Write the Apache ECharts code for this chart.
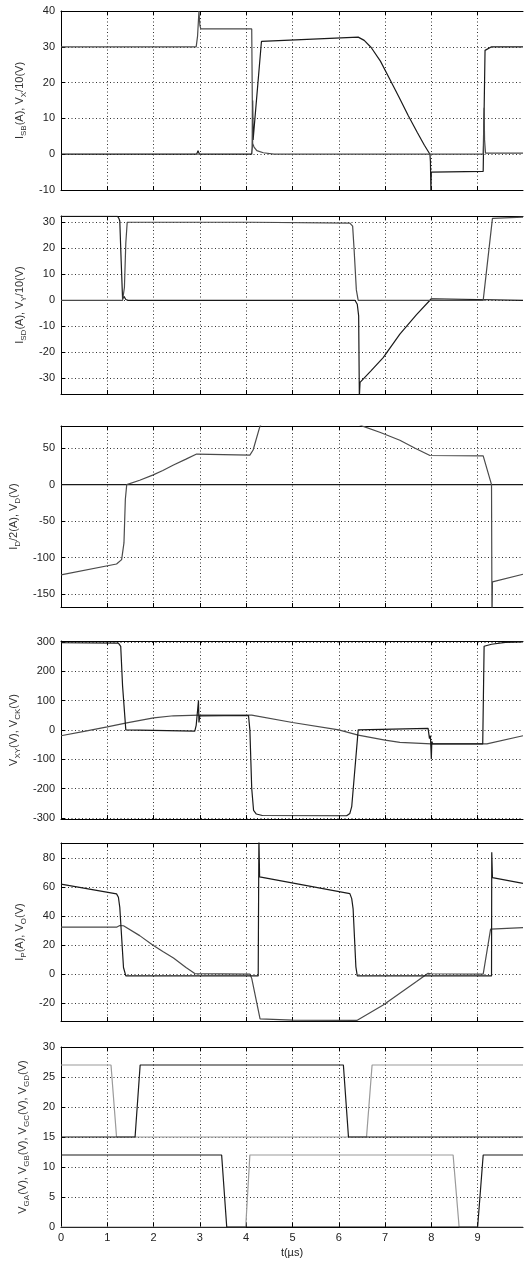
<!DOCTYPE html>
<html><head><meta charset="utf-8">
<script src="https://cdn.jsdelivr.net/npm/echarts@6/dist/echarts.min.js"></script>
<style>html,body{margin:0;padding:0;background:#fff}#c{width:529px;height:1263px}</style>
</head><body><div id="c"></div><script>
// ---- time axis ----
const timeTicks = [0,1,2,3,4,5,6,7,8,9];
const timeMin = 0, timeMax = 9.98;

// ---- panel 1 ----
const p1Ticks = [-10,0,10,20,30,40];
const p1Range = [-10, 40];
const p1Name = '{m|I}{s|SB}{m|(A), V}{s|X}{m|/10(V)}';
const p1TraceA = [[0,0],[2.93,0],[2.96,1],[2.99,0],[4.12,0],[4.13,2],[4.14,15],[4.15,4],[4.17,3.5],[4.33,31.5],[6.42,32.7],[6.55,31.8],[6.7,29.8],[6.9,26],[7.1,21],[7.3,16],[7.5,10.8],[7.7,6],[7.85,2.5],[7.97,0],[7.98,-2],[7.99,-10],[8.0,-5],[8.02,-4.8],[9.12,-4.8],[9.16,29],[9.2,29.5],[9.3,30],[9.98,30]];
const p1TraceB = [[0,30],[2.92,30],[2.95,33],[2.98,40],[3.0,36],[3.02,35],[4.12,35],[4.14,3],[4.17,2],[4.23,1],[4.37,0.4],[4.6,0],[9.12,0],[9.14,13],[9.15,4],[9.17,0.3],[9.98,0.3]];

// ---- panel 2 ----
const p2Ticks = [-30,-20,-10,0,10,20,30];
const p2Range = [-36, 32.4];
const p2Name = '{m|I}{s|SD}{m|(A), V}{s|Y}{m|/10(V)}';
const p2TraceA = [[0,32.3],[1.22,32.3],[1.25,31.5],[1.27,30.5],[1.30,15],[1.33,0.5],[1.36,1.5],[1.40,0.3],[1.45,0],[6.35,0],[6.40,-1.5],[6.43,-6],[6.445,-37],[6.46,-31.5],[6.7,-27],[6.96,-22],[7.32,-13],[7.68,-5.5],[8.0,0.6],[8.03,0],[9.98,0]];
const p2TraceB = [[0,0],[1.33,0],[1.37,5],[1.40,22],[1.43,30],[4.12,30],[4.15,29.7],[6.24,29.7],[6.30,28.5],[6.33,20],[6.38,4],[6.42,0],[9.12,0],[9.32,31.5],[9.36,32],[9.98,32]];

// ---- panel 3 ----
const p3Ticks = [-150,-100,-50,0,50];
const p3Range = [-168, 80.5];
const p3Name = '{m|I}{s|D}{m|/2(A), V}{s|D}{m|(V)}';
const p3VD = [[0,-124],[1.20,-109],[1.31,-103],[1.36,-80],[1.39,-20],[1.42,0],[1.7,6],[1.98,13],[2.2,19.5],[2.43,27],[2.7,35],[2.93,42],[2.97,40.5],[4.08,40.5],[4.15,47.6],[4.30,80.7],[4.45,93],[5.0,106],[5.6,104],[6.1,93],[6.53,80],[6.9,71.5],[7.32,61],[7.65,50],[7.97,40],[8.0,39.5],[9.12,39.5],[9.30,0],[9.31,-190],[9.32,-133.5],[9.98,-123]];
const p3ID = [[0,0],[9.98,0]];

// ---- panel 4 ----
const p4Ticks = [-300,-200,-100,0,100,200,300];
const p4Range = [-304, 303];
const p4Name = '{m|V}{s|XY}{m|(V), V}{s|CK}{m|(V)}';
const p4VXY = [[0,297],[1.24,296],[1.29,285],[1.33,150],[1.40,0],[1.42,-4],[2.89,-4],[2.92,15],[2.95,20],[2.97,100],[2.98,25],[3.0,48],[4.05,49],[4.08,0],[4.12,-200],[4.16,-275],[4.22,-287],[4.35,-292],[6.17,-293],[6.24,-285],[6.28,-262],[6.42,0],[6.44,5],[7.93,5],[7.96,-30],[7.98,-20],[8.0,-100],[8.01,-40],[8.03,-48],[9.11,-48],[9.14,285],[9.3,292],[9.6,298],[9.98,300]];
const p4VCK = [[0,-20],[0.5,-5],[1.0,10],[1.42,24],[2.0,41],[2.43,48],[3.0,50],[4.12,50],[5.0,25],[6.0,0],[6.42,-18],[7.0,-35],[7.32,-43],[8.0,-48],[9.2,-48],[9.98,-20]];

// ---- panel 5 ----
const p5Ticks = [-20,0,20,40,60,80];
const p5Range = [-32.4, 90.4];
const p5Name = '{m|I}{s|P}{m|(A), V}{s|O}{m|(V)}';
const p5Ip = [[0,62],[1.20,55.3],[1.24,53],[1.27,46],[1.35,4.5],[1.40,-1.3],[4.26,-1.3],[4.275,95],[4.29,67],[6.24,55.5],[6.28,52],[6.31,45],[6.37,5],[6.40,-1.3],[9.30,-1.3],[9.305,84],[9.32,66.5],[9.98,62.5]];
const p5Vo = [[0,32.3],[1.20,32.3],[1.27,33.5],[1.35,33.3],[1.7,26.5],[1.98,20],[2.2,15.5],[2.43,11],[2.7,4.5],[2.89,0.3],[2.93,0],[4.08,0],[4.12,-3],[4.30,-31],[5.0,-31.8],[6.39,-32],[6.96,-21.4],[7.32,-13.3],[7.68,-5.2],[7.93,0.5],[7.97,1],[8.0,0.2],[9.12,0],[9.28,31],[9.31,32],[9.98,32]];

// ---- panel 6 ----
const p6Ticks = [0,5,10,15,20,25,30];
const p6Range = [0, 30];
const p6Name = '{m|V}{s|GA}{m|(V), V}{s|GB}{m|(V), V}{s|GC}{m|(V), V}{s|GD}{m|(V)}';
const p6GA = [[0,12],[3.47,12],[3.58,0],[9.0,0],[9.12,12],[9.98,12]];
const p6GB = [[0,0],[3.99,0],[4.08,12],[8.47,12],[8.60,0],[9.98,0]];
const p6GC = [[0,27],[1.08,27],[1.20,15],[6.60,15],[6.72,27],[9.98,27]];
const p6GD = [[0,15],[1.60,15],[1.71,27],[6.10,27],[6.21,15],[9.98,15]];

// ---- layout & styles ----
const FONT = "'Liberation Sans', Arial, sans-serif";
const DARK = '#1a1a1a', MID = '#4a4a4a', LIGHT = '#9a9a9a';
const layout = [
  {top: 11, bottom: 190},
  {top: 216, bottom: 394},
  {top: 426, bottom: 607},
  {top: 641, bottom: 819},
  {top: 843, bottom: 1021},
  {top: 1047, bottom: 1227}
];
const panels = [
  {range: p1Range, ticks: p1Ticks, name: p1Name, series: [[p1TraceA, DARK], [p1TraceB, MID]]},
  {range: p2Range, ticks: p2Ticks, name: p2Name, series: [[p2TraceA, DARK], [p2TraceB, MID]]},
  {range: p3Range, ticks: p3Ticks, name: p3Name, series: [[p3ID, DARK], [p3VD, MID]]},
  {range: p4Range, ticks: p4Ticks, name: p4Name, series: [[p4VCK, MID], [p4VXY, DARK]]},
  {range: p5Range, ticks: p5Ticks, name: p5Name, series: [[p5Vo, MID], [p5Ip, DARK]]},
  {range: p6Range, ticks: p6Ticks, name: p6Name, series: [[p6GC, LIGHT], [p6GB, LIGHT], [p6GD, DARK], [p6GA, DARK]]}
];

const grid = [], xAxis = [], yAxis = [], series = [];
const dotted = {show: true, lineStyle: {color: '#333', width: 1, type: [1, 2.5]}};
panels.forEach((p, i) => {
  const L = layout[i];
  grid.push({left: 61, width: 462, top: L.top, height: L.bottom - L.top, show: false});
  const last = i === panels.length - 1;
  xAxis.push({
    type: 'value', gridIndex: i, position: 'bottom', min: timeMin, max: timeMax,
    axisLine: {show: true, onZero: false, lineStyle: {color: '#000', width: 1}},
    axisTick: {show: true, inside: true, length: 4, customValues: timeTicks, lineStyle: {color: '#000'}},
    axisLabel: {show: last, customValues: timeTicks, margin: 5, color: '#222', fontSize: 11, fontFamily: FONT},
    splitLine: dotted,
    name: last ? 't(\u00b5s)' : '', nameLocation: 'middle', nameGap: 20,
    nameTextStyle: {color: '#222', fontSize: 11, fontFamily: FONT}
  });
  xAxis.push({
    type: 'value', gridIndex: i, position: 'top', min: timeMin, max: timeMax,
    axisLine: {show: true, onZero: false, lineStyle: {color: '#000', width: 1}},
    axisTick: {show: true, inside: true, length: 4, customValues: timeTicks, lineStyle: {color: '#000'}},
    axisLabel: {show: false}, splitLine: {show: false}
  });
  yAxis.push({
    type: 'value', gridIndex: i, min: p.range[0], max: p.range[1],
    axisLine: {show: true, onZero: false, lineStyle: {color: '#000', width: 1}},
    axisTick: {show: true, inside: true, length: 4, customValues: p.ticks, lineStyle: {color: '#000'}},
    axisLabel: {customValues: p.ticks, margin: 6, color: '#222', fontSize: 11, fontFamily: FONT},
    splitLine: dotted,
    name: p.name, nameLocation: 'middle', nameRotate: 90, nameGap: 30,
    nameTextStyle: {
      color: '#333', fontFamily: FONT,
      rich: {
        m: {fontSize: 11, lineHeight: 16, fontFamily: FONT, color: '#333'},
        s: {fontSize: 8, lineHeight: 8, verticalAlign: 'bottom', fontFamily: FONT, color: '#333'}
      }
    }
  });
  p.series.forEach(([data, color]) => {
    series.push({
      type: 'line', xAxisIndex: 2 * i, yAxisIndex: i, data: data,
      showSymbol: false, symbol: 'none', clip: true, animation: false,
      lineStyle: {color: color, width: 1.2}
    });
  });
});

const chart = echarts.init(document.getElementById('c'), null, {renderer: 'canvas'});
chart.setOption({animation: false, backgroundColor: '#fff', grid, xAxis, yAxis, series});
</script></body></html>
